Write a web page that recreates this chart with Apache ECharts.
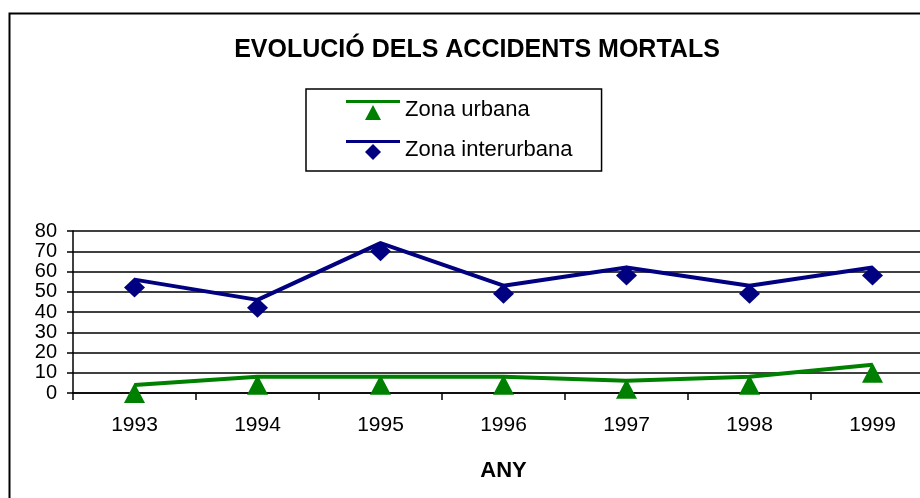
<!DOCTYPE html>
<html>
<head>
<meta charset="utf-8">
<script src="https://cdn.jsdelivr.net/npm/echarts@6/dist/echarts.min.js"></script>
<style>
html,body{margin:0;padding:0;background:#fff;}
#chart{width:920px;height:498px;}
</style>
</head>
<body>
<div id="chart"></div>
<script>
const categories = ['1993', '1994', '1995', '1996', '1997', '1998', '1999'];
const urbana = [4, 8, 8, 8, 6, 8, 14];
const interurbana = [56, 46, 74, 53, 62, 53, 62];
const yTicks = { min: 0, max: 80, interval: 10 };

const FONT = '"Liberation Sans", Arial, sans-serif';
const chart = echarts.init(document.getElementById('chart'), null, { renderer: 'canvas' });

const triIcon = 'path://M0,0L54,0L54,3L0,3Z M27,5L35,20L19,20Z';
const diaIcon = 'path://M0,0L54,0L54,3L0,3Z M27,4L35,12L27,20L19,12Z';

chart.setOption({
  backgroundColor: '#fff',
  animation: false,
  title: {
    text: 'EVOLUCIÓ DELS ACCIDENTS MORTALS',
    left: 472,
    top: 33,
    textAlign: 'center',
    textStyle: { fontFamily: FONT, fontSize: 25, fontWeight: 'bold', color: '#000' }
  },
  legend: {
    orient: 'vertical',
    left: 306,
    top: 89,
    padding: [10, 29, 10, 40],
    itemGap: 18,
    itemWidth: 54,
    itemHeight: 20,
    borderColor: '#000',
    borderWidth: 1.5,
    textStyle: { fontFamily: FONT, fontSize: 22, color: '#000' },
    data: [
      { name: 'Zona urbana', icon: triIcon },
      { name: 'Zona interurbana', icon: diaIcon }
    ]
  },
  grid: { left: 73, width: 861, top: 231, bottom: 105, containLabel: false, outerBoundsMode: 'none' },
  xAxis: {
    type: 'category',
    data: categories,
    boundaryGap: true,
    name: 'ANY',
    nameLocation: 'middle',
    nameGap: 67,
    nameTextStyle: { fontFamily: FONT, fontSize: 22, fontWeight: 'bold', color: '#000' },
    axisLine: { lineStyle: { color: '#000', width: 1.5 } },
    axisTick: { show: true, length: 7, alignWithLabel: false, lineStyle: { color: '#000', width: 1.5 } },
    axisLabel: { fontFamily: FONT, fontSize: 21, color: '#000', margin: 22 },
    splitLine: { show: false }
  },
  yAxis: {
    type: 'value',
    min: yTicks.min,
    max: yTicks.max,
    interval: yTicks.interval,
    axisLine: { show: true, lineStyle: { color: '#000', width: 1.5 } },
    axisTick: { show: true, length: 6, lineStyle: { color: '#000', width: 1.5 } },
    axisLabel: { fontFamily: FONT, fontSize: 20, color: '#000', margin: 16 },
    splitLine: { show: true, lineStyle: { color: '#000', width: 1.5 } }
  },
  series: [
    {
      name: 'Zona urbana',
      type: 'line',
      data: urbana,
      color: '#008000',
      symbol: 'triangle',
      symbolSize: [21, 20],
      symbolOffset: [0, 8],
      showAllSymbol: true,
      lineStyle: { color: '#008000', width: 4 },
      itemStyle: { color: '#008000', borderWidth: 0 }
    },
    {
      name: 'Zona interurbana',
      type: 'line',
      data: interurbana,
      color: '#000080',
      symbol: 'diamond',
      symbolSize: [21, 20],
      symbolOffset: [0, 8],
      showAllSymbol: true,
      lineStyle: { color: '#000080', width: 4 },
      itemStyle: { color: '#000080', borderWidth: 0 }
    }
  ],
  graphic: [
    {
      type: 'rect',
      silent: true,
      z: 100,
      shape: { x: 9.5, y: 13.5, width: 1000, height: 1000 },
      style: { fill: null, stroke: '#000', lineWidth: 2 }
    }
  ]
});
</script>
</body>
</html>
